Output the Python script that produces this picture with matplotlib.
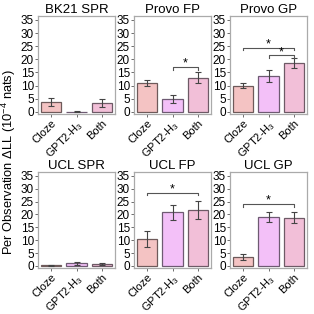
import matplotlib
matplotlib.use("Agg")
import matplotlib.pyplot as plt

plt.rcParams["font.family"] = ["Liberation Sans", "DejaVu Sans"]
plt.rcParams["mathtext.fontset"] = "custom"
plt.rcParams["mathtext.rm"] = "Liberation Sans"
plt.rcParams["mathtext.it"] = "Liberation Sans"

# data
models = ["Cloze", "GPT2-H$_3$", "Both"]
titles = ["BK21 SPR", "Provo FP", "Provo GP", "UCL SPR", "UCL FP", "UCL GP"]
means = [
    [3.8, 0.1, 3.5],
    [11.0, 5.0, 13.0],
    [10.0, 13.5, 18.7],
    [0.3, 1.0, 0.8],
    [10.5, 20.8, 21.8],
    [3.5, 19.0, 18.8],
]
errs = [
    [1.5, 0.2, 1.5],
    [1.2, 1.5, 2.0],
    [0.9, 2.3, 2.0],
    [0.2, 0.5, 0.5],
    [3.2, 2.8, 3.5],
    [1.2, 2.0, 2.0],
]
# significance brackets: (panel, left, right, height)
sig = [
    (1, 1, 2, 17.0),
    (2, 0, 2, 24.5),
    (2, 1, 2, 21.5),
    (4, 0, 2, 28.5),
    (5, 0, 2, 24.0),
]
colors = ["#f4c3c3", "#f3c0f8", "#f2bfd8"]
edges = ["#6e5a5a", "#6e5a72", "#6e5a66"]

fig = plt.figure(figsize=(3.14, 3.14), dpi=100)
xs = [38, 134, 230]
rows = [(16, 114), (172, 268)]
axes = []
for i in range(6):
    r, c = divmod(i, 3)
    top, bot = rows[r]
    ax = fig.add_axes([xs[c] / 314, 1 - bot / 314, 77 / 314, (bot - top) / 314])
    axes.append(ax)
    ax.bar(range(3), means[i], width=0.8, color=colors, edgecolor=edges, linewidth=0.9)
    ax.errorbar(range(3), means[i], yerr=errs[i], fmt="none", ecolor="#444444",
                elinewidth=0.8, capsize=2.5, capthick=0.8)
    ax.set_xlim(-0.5, 2.5)
    ax.set_ylim(-0.8, 36.5)
    ax.set_yticks(range(0, 36, 5))
    ax.set_xticks(range(3))
    ax.set_xticklabels(models, rotation=45, ha="right", rotation_mode="anchor", fontsize=8)
    ax.tick_params(axis="both", length=2, width=0.6, color="#555555", pad=1)
    ax.tick_params(axis="y", labelsize=8.5)
    for s in ax.spines.values():
        s.set_color("#aaaaaa")
        s.set_linewidth(0.9)
    ax.set_title(titles[i], fontsize=9.5, pad=2)

for p, a, b, h in sig:
    ax = axes[p]
    ax.plot([a, a, b, b], [h - 1, h, h, h - 1], color="#555555", linewidth=0.8)
    ax.text((a + b) / 2, h - 1.0, "*", ha="center", va="bottom", fontsize=9)

fig.text(0.028, 0.484, "Per Observation \u0394LL (10$^{-4}$ nats)", rotation=90,
         ha="center", va="center", fontsize=9.3)

fig.savefig("out.png", dpi=100)
